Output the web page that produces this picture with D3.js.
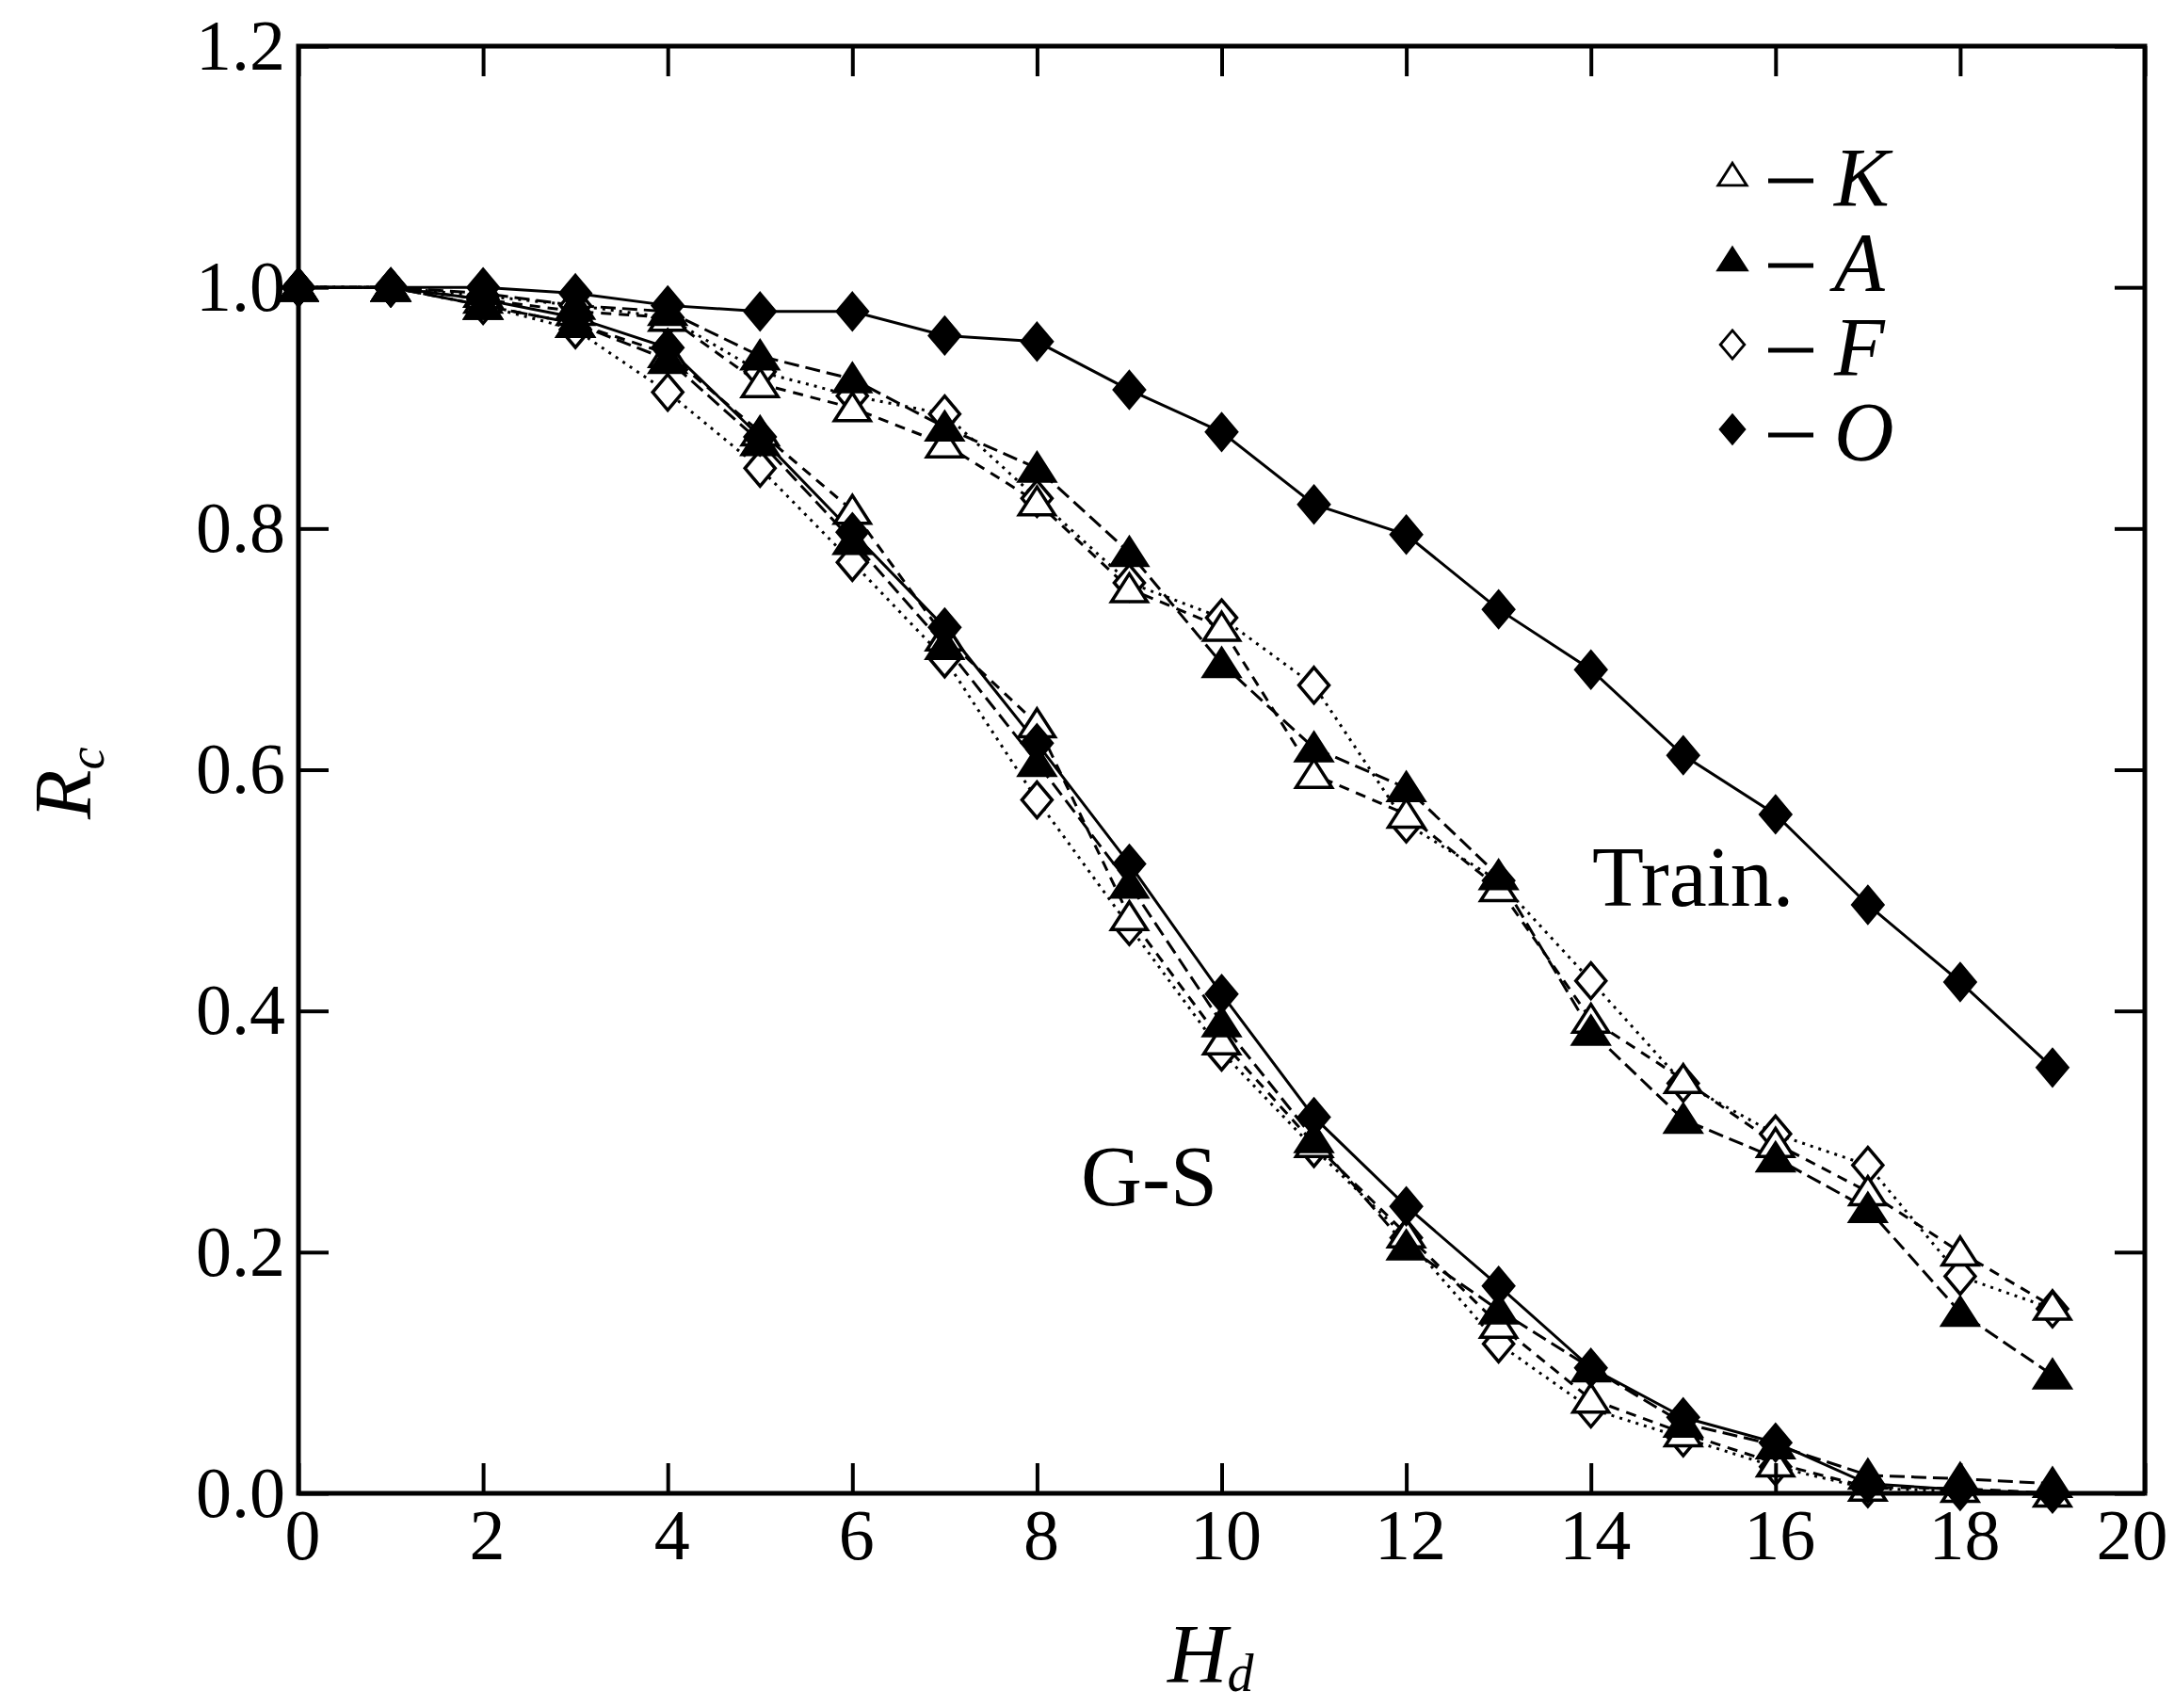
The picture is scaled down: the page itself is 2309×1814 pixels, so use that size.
<!DOCTYPE html>
<html>
<head>
<meta charset="utf-8">
<script src="https://cdnjs.cloudflare.com/ajax/libs/d3/7.8.5/d3.min.js"></script>
<style>
  body { margin: 0; background: #fff; }
  svg { display: block; }
  .axis text { font-family: "Liberation Serif", serif; font-size: 76px; fill: #000; }
  .axis path { display: none; }
  .axis line { stroke: #000; stroke-width: 4; }
</style>
</head>
<body>
<div id="viz"></div>
<script>
// H_d values on the x axis
var hd = [0, 1, 2, 3, 4, 5, 6, 7, 8, 9, 10, 11, 12, 13, 14, 15, 16, 17, 18, 19];

// Train. group
var trainK = [1.0, 1.0, 0.99, 0.98, 0.975, 0.92, 0.90, 0.87, 0.822, 0.75, 0.718, 0.596, 0.563, 0.502, 0.393, 0.343, 0.29, 0.25, 0.20, 0.155];
var trainA = [1.0, 1.0, 0.995, 0.985, 0.98, 0.943, 0.924, 0.884, 0.85, 0.78, 0.688, 0.618, 0.585, 0.512, 0.383, 0.31, 0.278, 0.236, 0.15, 0.098];
var trainF = [1.0, 1.0, 0.993, 0.985, 0.975, 0.93, 0.91, 0.895, 0.825, 0.755, 0.726, 0.67, 0.555, 0.508, 0.425, 0.34, 0.298, 0.272, 0.18, 0.153];
var trainO = [1.0, 1.0, 1.0, 0.995, 0.985, 0.98, 0.98, 0.96, 0.955, 0.915, 0.88, 0.82, 0.795, 0.733, 0.683, 0.612, 0.563, 0.488, 0.424, 0.353];

// G-S group
var gsK = [1.0, 1.0, 0.985, 0.97, 0.945, 0.88, 0.815, 0.71, 0.638, 0.478, 0.375, 0.29, 0.215, 0.14, 0.078, 0.05, 0.025, 0.005, 0.004, 0.0];
var gsA = [1.0, 1.0, 0.985, 0.97, 0.94, 0.872, 0.79, 0.703, 0.606, 0.505, 0.39, 0.294, 0.205, 0.152, 0.104, 0.058, 0.04, 0.015, 0.012, 0.008];
var gsF = [1.0, 1.0, 0.985, 0.965, 0.913, 0.85, 0.772, 0.692, 0.575, 0.47, 0.366, 0.286, 0.212, 0.124, 0.07, 0.046, 0.022, 0.004, 0.002, 0.0];
var gsO = [1.0, 1.0, 0.99, 0.975, 0.95, 0.876, 0.797, 0.718, 0.622, 0.522, 0.414, 0.312, 0.238, 0.172, 0.104, 0.063, 0.042, 0.008, 0.003, 0.0];

var xTicks = [0, 2, 4, 6, 8, 10, 12, 14, 16, 18, 20];
var yTicks = [0.0, 0.2, 0.4, 0.6, 0.8, 1.0, 1.2];
var legendNames = ["K", "A", "F", "O"];

var margin = {top: 49, right: 31, bottom: 228, left: 317},
    W = 2309, H = 1814,
    width = W - margin.left - margin.right,
    height = H - margin.top - margin.bottom;

var x = d3.scaleLinear().domain([0, 20]).range([0, width]);
var y = d3.scaleLinear().domain([0, 1.2]).range([height, 0]);

var svg = d3.select('#viz').append('svg')
    .attr('width', W)
    .attr('height', H);

var g = svg.append('g')
    .attr('transform', 'translate(' + margin.left + ',' + margin.top + ')');

// marker shapes
function triPath() {
    var w = 19, h = 16;
    return 'M0,' + (-h) + 'L' + w + ',' + h * 0.85 + 'L' + (-w) + ',' + h * 0.85 + 'Z';
}
function diaPath() {
    var w = 16, h = 19;
    return 'M0,' + (-h) + 'L' + w + ',0L0,' + h + 'L' + (-w) + ',0Z';
}

var styles = {
    K: {shape: triPath, fill: '#fff', dash: '11,8'},
    A: {shape: triPath, fill: '#000', dash: '16,7'},
    F: {shape: diaPath, fill: '#fff', dash: '3,6'},
    O: {shape: diaPath, fill: '#000', dash: null}
};

var series = [
    {name: 'F', values: trainF}, {name: 'K', values: trainK}, {name: 'A', values: trainA}, {name: 'O', values: trainO},
    {name: 'F', values: gsF}, {name: 'K', values: gsK}, {name: 'A', values: gsA}, {name: 'O', values: gsO}
];

var line = d3.line()
    .x(function(d, i) { return x(hd[i]); })
    .y(function(d) { return y(d); });

g.selectAll('path.series')
    .data(series)
    .enter().append('path')
        .attr('class', 'series')
        .attr('d', function(s) { return line(s.values); })
        .attr('fill', 'none')
        .attr('stroke', '#000')
        .attr('stroke-width', 3)
        .attr('stroke-dasharray', function(s) { return styles[s.name].dash; });

series.forEach(function(s) {
    var st = styles[s.name];
    g.append('g').selectAll('path')
        .data(s.values)
        .enter().append('path')
            .attr('d', st.shape())
            .attr('transform', function(d, i) { return 'translate(' + x(hd[i]) + ',' + y(d) + ')'; })
            .attr('fill', st.fill)
            .attr('stroke', '#000')
            .attr('stroke-width', 3.5);
});

// axes, ticks pointing inward
var tick = 32;
var fmtY = d3.format('.1f');
var xAxisG = g.append('g')
    .attr('class', 'axis')
    .attr('transform', 'translate(0,' + height + ')')
    .call(d3.axisBottom(x).tickValues(xTicks).tickSizeInner(-tick).tickSizeOuter(0).tickPadding(16).tickFormat(d3.format('d')));
xAxisG.selectAll('text')
    .attr('dx', function(d) { return d === 20 ? -14 : 4; });
g.append('g')
    .attr('class', 'axis')
    .call(d3.axisLeft(y).tickValues(yTicks).tickSizeInner(-tick).tickSizeOuter(0).tickPadding(14).tickFormat(fmtY));
g.append('g')
    .attr('class', 'axis')
    .call(d3.axisTop(x).tickValues(xTicks).tickSizeInner(-tick).tickSizeOuter(0).tickFormat(''));
g.append('g')
    .attr('class', 'axis')
    .attr('transform', 'translate(' + width + ',0)')
    .call(d3.axisRight(y).tickValues(yTicks).tickSizeInner(-tick).tickSizeOuter(0).tickFormat(''));

g.append('rect')
    .attr('width', width)
    .attr('height', height)
    .attr('fill', 'none')
    .attr('stroke', '#000')
    .attr('stroke-width', 5);

// axis titles
var xt = svg.append('text')
    .attr('x', 1240)
    .attr('y', 1786)
    .style('font-family', '"Liberation Serif", serif')
    .style('font-style', 'italic')
    .style('font-size', '88px');
xt.append('tspan').text('H');
xt.append('tspan').attr('dy', 10).style('font-size', '56px').text('d');

var yt = svg.append('text')
    .attr('transform', 'translate(96,870) rotate(-90)')
    .style('font-family', '"Liberation Serif", serif')
    .style('font-style', 'italic')
    .style('font-size', '86px');
yt.append('tspan').text('R');
yt.append('tspan').attr('dy', 14).style('font-size', '54px').text('c');

// group labels
svg.append('text')
    .attr('x', 1691).attr('y', 962)
    .style('font-family', '"Liberation Serif", serif')
    .style('font-size', '90px')
    .text('Train.');
svg.append('text')
    .attr('x', 1148).attr('y', 1280)
    .style('font-family', '"Liberation Serif", serif')
    .style('font-size', '90px')
    .text('G-S');

// legend
var leg = svg.append('g').attr('transform', 'translate(1840,186)');
var rows = leg.selectAll('g')
    .data(legendNames)
    .enter().append('g')
        .attr('transform', function(d, i) { return 'translate(0,' + i * 90 + ')'; });
rows.append('path')
    .attr('d', function(d) { return styles[d].shape(); })
    .attr('transform', 'scale(0.8)')
    .attr('fill', function(d) { return styles[d].fill; })
    .attr('stroke', '#000')
    .attr('stroke-width', 3.5);
rows.append('line')
    .attr('x1', 38).attr('x2', 86)
    .attr('y1', 6).attr('y2', 6)
    .attr('stroke', '#000')
    .attr('stroke-width', 5);
rows.append('text')
    .attr('x', 108).attr('y', 32)
    .style('font-family', '"Liberation Serif", serif')
    .style('font-style', 'italic')
    .style('font-size', '88px')
    .text(function(d) { return d; });
</script>
</body>
</html>
